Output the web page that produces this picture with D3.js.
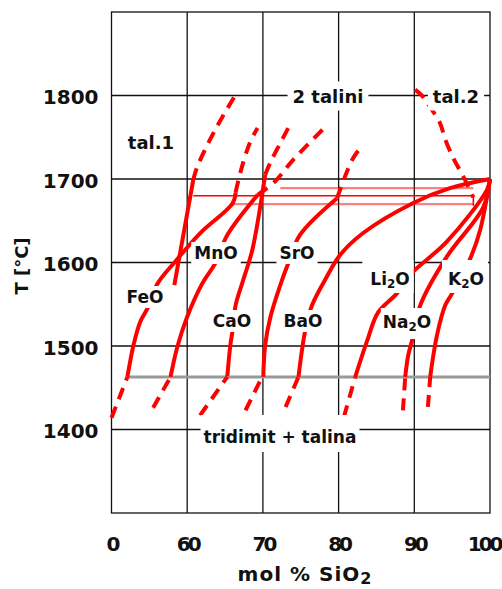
<!DOCTYPE html>
<html>
<head>
<meta charset="utf-8">
<script src="https://cdn.jsdelivr.net/npm/d3@7"></script>
<style>
  body { margin: 0; background: #fff; }
  svg text { font-family: "DejaVu Sans", Verdana, sans-serif; font-weight: bold; fill: #111; }
</style>
</head>
<body>
<svg id="chart" width="502" height="589"></svg>
<script>
// axis: the left edge is a break labelled "0", then 60..100 mol % SiO2
const xTicks = [50, 60, 70, 80, 90, 100];
const xTickLabels = ["0", "60", "70", "80", "90", "100"];
const yTicks = [1400, 1500, 1600, 1700, 1800];

// [mol % SiO2, T in C]
const feoBelow = [[50, 1414], [52.1, 1463]];
const feoLiquidus = [[52.1, 1463], [52.5, 1483], [52.9, 1501], [53.8, 1529], [54.75, 1545], [56.1, 1575],
  [58.4, 1601], [61.7, 1635], [66.0, 1671], [66.4, 1684]];
const feoDome = [[66.4, 1684], [67.0, 1707], [68.3, 1744], [69.3, 1761]];

const steepLiquidus = [[58.3, 1573], [60.8, 1699]];
const steepDome = [[60.8, 1699], [61.3, 1714], [63.7, 1759], [66.4, 1801]];

const mnoBelow = [[55.5, 1426], [57.8, 1463]];
const mnoLiquidus = [[57.8, 1463], [58.7, 1499], [60.0, 1535], [62.0, 1575], [63.7, 1599], [65.3, 1633], [69.3, 1681]];
const mnoDome = [[69.3, 1681], [71.6, 1697], [74.0, 1723], [78.2, 1762]];

const caoBelow = [[61.7, 1417], [65.3, 1463]];
const caoLiquidus = [[65.3, 1464], [65.7, 1501], [66.0, 1519], [66.4, 1549], [67.4, 1579], [68.6, 1615], [70.3, 1705]];
const caoDome = [[70.3, 1705], [71.0, 1720], [72.3, 1743], [73.4, 1762]];

const sroBelow = [[67.7, 1423], [69.9, 1463]];
const sroLiquidus = [[70.05, 1463], [70.3, 1501], [71.0, 1535], [72.3, 1573], [73.35, 1599], [74.9, 1633], [79.8, 1677]];
const sroDome = [[79.8, 1677], [81.8, 1723], [83.2, 1741]];

const baoBelow = [[73.0, 1427], [74.7, 1463]];
const baoLiquidus = [[74.7, 1463], [75.6, 1519], [76.5, 1549], [78.2, 1579], [80.2, 1609], [83.2, 1635],
  [89.8, 1671], [94.7, 1689], [100, 1700]];

const li2oBelow = [[80.7, 1415], [82.2, 1463]];
const li2oLiquidus = [[82.2, 1463], [83.8, 1507], [85.2, 1540], [87.7, 1563], [89.4, 1585], [94.3, 1625],
  [99.6, 1687], [100, 1700]];

const na2oBelow = [[88.5, 1423], [88.8, 1463]];
const na2oLiquidus = [[88.8, 1463], [89.2, 1489], [89.8, 1510], [90.8, 1549], [94.3, 1607], [99.1, 1666], [100, 1700]];

const k2oBelow = [[91.8, 1427], [92.1, 1463]];
const k2oLiquidus = [[92.1, 1463], [93.0, 1513], [94.1, 1549], [95.0, 1563], [97.4, 1605], [98.7, 1639], [100, 1700]];

// right side of the two-liquid field (tal.2)
const rightDome = [[90.1, 1807], [91.2, 1798], [92.1, 1786], [93.4, 1767], [94.1, 1747], [95.1, 1726],
  [95.8, 1714], [96.7, 1699], [97.8, 1678]];

// monotectic lines: [from, to] and whether drawn strong
const monotectics = [
  [[60.8, 1680], [97.8, 1680]],
  [[66.0, 1670], [97.8, 1670]],
  [[72.3, 1689], [97.8, 1689]]
];
const monotecticStrong = [true, false, false];
const monotecticTie = [[97.8, 1680], [97.8, 1668]];

// tridymit / cristobalit transition
const transitionT = 1463;
const transitionFrom = 52.1;

const svg = d3.select("#chart");
const x = d3.scaleLinear().domain([50, 100]).range([111.5, 490]);
const y = d3.scaleLinear().domain([1300, 1900]).range([513, 12]);

const line = d3.line().x(d => x(d[0])).y(d => y(d[1])).curve(d3.curveCatmullRom.alpha(0.5));
const straight = d3.line().x(d => x(d[0])).y(d => y(d[1]));

// grid
const grid = svg.append("g").attr("stroke", "#111").attr("stroke-width", 1.3);
xTicks.slice(1, -1).forEach(v => {
  grid.append("line").attr("x1", x(v)).attr("x2", x(v)).attr("y1", y(1900)).attr("y2", y(1300));
});
yTicks.forEach(v => {
  grid.append("line").attr("x1", x(50)).attr("x2", x(100)).attr("y1", y(v)).attr("y2", y(v));
});
svg.append("rect")
  .attr("x", x(50)).attr("y", y(1900))
  .attr("width", x(100) - x(50)).attr("height", y(1300) - y(1900))
  .attr("fill", "none").attr("stroke", "#111").attr("stroke-width", 1.3);

// transition line
svg.append("line")
  .attr("x1", x(transitionFrom)).attr("x2", x(100))
  .attr("y1", y(transitionT)).attr("y2", y(transitionT))
  .attr("stroke", "#999").attr("stroke-width", 3);

// monotectic lines
monotectics.forEach((m, i) => {
  svg.append("path").attr("d", straight(m))
    .attr("fill", "none").attr("stroke", "#ff0000")
    .attr("stroke-width", monotecticStrong[i] ? 1.6 : 2.2)
    .attr("stroke-opacity", monotecticStrong[i] ? 1 : 0.5);
});
svg.append("path").attr("d", straight(monotecticTie))
  .attr("fill", "none").attr("stroke", "#ff0000").attr("stroke-width", 1.6);

const red = "#ff0000";
const solids = [feoLiquidus, steepLiquidus, mnoLiquidus, caoLiquidus, sroLiquidus,
  baoLiquidus, li2oLiquidus, na2oLiquidus, k2oLiquidus];
const dashed = [feoBelow, mnoBelow, caoBelow, sroBelow, baoBelow, li2oBelow, na2oBelow, k2oBelow,
  feoDome, steepDome, mnoDome, caoDome, sroDome, rightDome];

solids.forEach(c => {
  svg.append("path").attr("d", line(c))
    .attr("fill", "none").attr("stroke", red).attr("stroke-width", 4)
    .attr("stroke-linejoin", "round");
});
dashed.forEach(c => {
  svg.append("path").attr("d", line(c))
    .attr("fill", "none").attr("stroke", red).attr("stroke-width", 4)
    .attr("stroke-dasharray", "12,8");
});

// labels with white backing; pad = [top, right, bottom, left]
function label(txt, sub, rest, cx, cy, size, pad) {
  pad = pad || [1, 3, 1, 3];
  const g = svg.append("g");
  const t = g.append("text")
    .attr("x", cx).attr("y", cy)
    .attr("text-anchor", "middle")
    .attr("dominant-baseline", "central")
    .style("font-size", size + "px");
  t.append("tspan").text(txt);
  if (sub) {
    t.append("tspan").text(sub).attr("dy", 5).style("font-size", (size * 0.7) + "px");
    t.append("tspan").text(rest).attr("dy", -5);
  }
  const b = t.node().getBBox();
  g.insert("rect", "text")
    .attr("x", b.x - pad[3]).attr("y", b.y - pad[0])
    .attr("width", b.width + pad[1] + pad[3]).attr("height", b.height + pad[0] + pad[2])
    .attr("fill", "#fff");
}

label("tal.1", null, null, 151, 142, 18);
label("2 talini", null, null, 328, 96, 18, [4, 5, 4, 5]);
label("tal.2", null, null, 456, 96, 18, [4, 5, 4, 5]);
label("MnO", null, null, 216, 253, 17);
label("SrO", null, null, 297, 253, 17);
label("FeO", null, null, 145, 297, 17);
label("CaO", null, null, 232, 321, 17);
label("BaO", null, null, 303, 321, 17);
label("Li", "2", "O", 390, 279, 17, [9, 4, 2, 8]);
label("K", "2", "O", 466, 279, 17, [9, 4, 2, 6]);
label("Na", "2", "O", 407, 322, 17, [4, 2, 5, 2]);
label("tridimit + talina", null, null, 280, 437, 17, [12, 3, 5, 3]);

// axes
const yAxis = svg.append("g")
  .attr("transform", `translate(${x(50) - 13},0)`)
  .call(d3.axisLeft(y).tickValues(yTicks).tickSize(0).tickFormat(d3.format("d")));
yAxis.select(".domain").remove();
yAxis.selectAll("text")
  .attr("x", 0).attr("dy", "0.42em")
  .style("font-size", "20px").style("font-family", "DejaVu Sans").style("font-weight", "bold")
  .attr("fill", "#111");

const xAxis = svg.append("g")
  .attr("transform", `translate(0,${y(1300) + 24})`)
  .call(d3.axisBottom(x).tickValues(xTicks).tickSize(0).tickFormat((d, i) => xTickLabels[i]));
xAxis.select(".domain").remove();
xAxis.selectAll("text")
  .attr("y", 0).attr("dy", "0.71em")
  .style("font-size", "20px").style("font-family", "DejaVu Sans").style("font-weight", "bold")
  .style("letter-spacing", "-3px")
  .attr("fill", "#111");
xAxis.selectAll("text").filter((d, i) => i === xTicks.length - 1)
  .attr("text-anchor", "end").attr("x", 10);

// axis titles
const xt = svg.append("text")
  .attr("x", 305).attr("y", 581)
  .attr("text-anchor", "middle")
  .style("font-size", "20px").style("letter-spacing", "1px");
xt.append("tspan").text("mol % SiO");
xt.append("tspan").text("2").attr("dy", 3).style("font-size", "16px");

const yt = svg.append("text")
  .attr("transform", "translate(28,266) rotate(-90)")
  .attr("text-anchor", "middle")
  .style("font-size", "18px");
yt.text("T  [°C]");
</script>
</body>
</html>
